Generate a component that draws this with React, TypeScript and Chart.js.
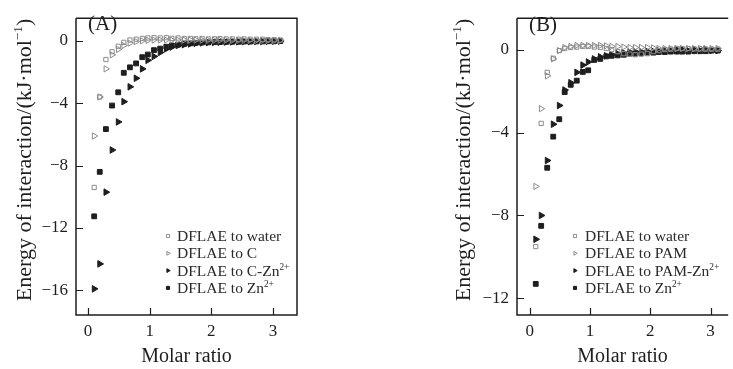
import React, { useEffect, useRef } from 'react';
import { Chart, registerables } from 'chart.js';
import { drawPoint } from 'chart.js/helpers';
Chart.register(...registerables);

// ---------- data ----------
const molarRatio = [0.10, 0.19, 0.29, 0.39, 0.49, 0.58, 0.68, 0.78, 0.88, 0.97, 1.07, 1.17, 1.27, 1.36, 1.46, 1.56, 1.66, 1.75, 1.85, 1.95, 2.05, 2.14, 2.24, 2.34, 2.44, 2.53, 2.63, 2.73, 2.83, 2.92, 3.02, 3.12];

// Panel A
const waterA = [-9.4, -3.6, -1.2, -0.7, -0.35, -0.1, 0.05, 0.1, 0.15, 0.18, 0.2, 0.18, 0.2, 0.16, 0.18, 0.15, 0.15, 0.13, 0.15, 0.12, 0.13, 0.14, 0.12, 0.12, 0.1, 0.12, 0.1, 0.1, 0.1, 0.08, 0.07, 0.05];
const cA = [-6.1, -3.6, -1.8, -0.9, -0.55, -0.3, -0.15, -0.05, 0, 0.03, 0.05, 0.05, 0.05, 0.05, 0.05, 0.05, 0.05, 0.05, 0.05, 0.04, 0.04, 0.04, 0.04, 0.03, 0.03, 0.03, 0.03, 0.02, 0.02, 0.02, 0.02, 0.02];
const cZnA = [-15.9, -14.3, -9.7, -7.0, -5.2, -3.9, -2.95, -2.4, -1.8, -1.25, -1.0, -0.75, -0.52, -0.4, -0.3, -0.25, -0.2, -0.16, -0.13, -0.11, -0.1, -0.09, -0.08, -0.07, -0.06, -0.05, -0.05, -0.04, -0.04, -0.03, -0.03, -0.02];
const znA = [-11.25, -8.4, -5.66, -4.15, -3.3, -2.05, -1.7, -1.45, -1.05, -0.88, -0.6, -0.5, -0.38, -0.3, -0.25, -0.2, -0.16, -0.13, -0.11, -0.1, -0.09, -0.08, -0.07, -0.06, -0.06, -0.05, -0.05, -0.04, -0.04, -0.03, -0.03, -0.02];

// Panel B
const waterB = [-9.5, -3.56, -1.1, -0.42, -0.05, 0.05, 0.1, 0.12, 0.15, 0.15, 0.12, 0.1, 0.05, 0.0, -0.1, -0.2, -0.22, -0.25, -0.22, -0.2, -0.1, -0.05, 0, 0.02, 0.05, 0.05, 0.05, 0.03, 0.03, 0.02, 0.02, 0.02];
const pamB = [-6.6, -2.85, -1.27, -0.45, -0.05, 0.1, 0.15, 0.2, 0.2, 0.2, 0.2, 0.2, 0.18, 0.15, 0.15, 0.12, 0.1, 0.1, 0.1, 0.1, 0.08, 0.05, 0.05, 0.05, 0.05, 0.05, 0.05, 0.05, 0.05, 0.05, 0.05, 0.05];
const pamZnB = [-9.15, -8.0, -5.35, -3.6, -2.7, -1.95, -1.6, -1.1, -0.75, -0.6, -0.45, -0.35, -0.3, -0.25, -0.2, -0.15, -0.12, -0.1, -0.1, -0.08, -0.08, -0.05, -0.05, -0.05, 0, 0, -0.05, 0, -0.05, 0, -0.05, -0.05];
const znB = [-11.3, -8.5, -5.7, -4.2, -3.36, -2.05, -1.7, -1.5, -1.08, -1.0, -0.5, -0.45, -0.33, -0.3, -0.28, -0.25, -0.2, -0.2, -0.18, -0.15, -0.15, -0.12, -0.12, -0.1, -0.1, -0.1, -0.1, -0.08, -0.08, -0.08, -0.05, -0.05];

const xTicks = [0, 1, 2, 3];
const yTicksA = [0, -4, -8, -12, -16];
const yTicksB = [0, -4, -8, -12];
const labelsA = ['DFLAE to water', 'DFLAE to C', 'DFLAE to C-Zn^{2+}', 'DFLAE to Zn^{2+}'];
const labelsB = ['DFLAE to water', 'DFLAE to PAM', 'DFLAE to PAM-Zn^{2+}', 'DFLAE to Zn^{2+}'];
const yTitleText = 'Energy of interaction/(kJ·mol^{−1})';
const xTitleText = 'Molar ratio';

// ---------- styling ----------
const SERIF = "'Liberation Serif', 'Times New Roman', Times, serif";
const INK = '#1e1e1e';
const GREY = '#8c8c8c';

const markerStyles = [
  { pointStyle: 'rect', rotation: 0, radius: 3, fill: 'rgba(0,0,0,0)', stroke: GREY },
  { pointStyle: 'triangle', rotation: 90, radius: 3.6, fill: 'rgba(0,0,0,0)', stroke: GREY },
  { pointStyle: 'triangle', rotation: 90, radius: 3.8, fill: INK, stroke: INK },
  { pointStyle: 'rect', rotation: 0, radius: 3.4, fill: INK, stroke: INK },
];

function parseRich(s: string) {
  const parts: { t: string; sup: boolean }[] = [];
  const re = /\^\{([^}]*)\}/g;
  let last = 0;
  let m: RegExpExecArray | null;
  while ((m = re.exec(s))) {
    if (m.index > last) parts.push({ t: s.slice(last, m.index), sup: false });
    parts.push({ t: m[1], sup: true });
    last = re.lastIndex;
  }
  if (last < s.length) parts.push({ t: s.slice(last), sup: false });
  return parts;
}

function drawRich(ctx: CanvasRenderingContext2D, s: string, x: number, yMid: number, size: number, color: string, align: 'left' | 'center') {
  const parts = parseRich(s);
  const supSize = size * 0.6;
  const widths = parts.map((p) => {
    ctx.font = `${p.sup ? supSize : size}px ${SERIF}`;
    return ctx.measureText(p.t).width;
  });
  const total = widths.reduce((a, b) => a + b, 0);
  let cx = align === 'center' ? x - total / 2 : x;
  const base = yMid + size * 0.33;
  ctx.fillStyle = color;
  ctx.textAlign = 'left';
  ctx.textBaseline = 'alphabetic';
  parts.forEach((p, i) => {
    ctx.font = `${p.sup ? supSize : size}px ${SERIF}`;
    ctx.fillText(p.t, cx, p.sup ? base - size * 0.4 : base);
    cx += widths[i];
  });
}

const decoPlugin = {
  id: 'deco',
  afterDraw(chart: any, _args: any, opts: any) {
    const { ctx, chartArea: a, scales } = chart;
    ctx.save();
    // frame
    ctx.strokeStyle = INK;
    ctx.lineWidth = 1.5;
    ctx.beginPath();
    ctx.moveTo(a.left, a.top);
    ctx.lineTo(a.left, a.bottom);
    ctx.lineTo(a.right, a.bottom);
    if (opts.fullBox) {
      ctx.lineTo(a.right, a.top);
      ctx.lineTo(a.left, a.top);
    } else {
      ctx.moveTo(a.left, a.top);
      ctx.lineTo(a.right, a.top);
    }
    ctx.stroke();
    // inward ticks
    ctx.lineWidth = 1.2;
    ctx.beginPath();
    scales.x.ticks.forEach((t: any) => {
      const px = Math.round(scales.x.getPixelForValue(t.value)) + 0.5;
      ctx.moveTo(px, a.bottom);
      ctx.lineTo(px, a.bottom - opts.tickLen);
    });
    scales.y.ticks.forEach((t: any) => {
      const py = Math.round(scales.y.getPixelForValue(t.value)) + 0.5;
      ctx.moveTo(a.left, py);
      ctx.lineTo(a.left + opts.tickLen, py);
    });
    ctx.stroke();
    // panel label
    ctx.fillStyle = INK;
    ctx.font = `21px ${SERIF}`;
    ctx.textAlign = 'left';
    ctx.textBaseline = 'middle';
    ctx.fillText(opts.panel, opts.panelX, opts.panelY);
    // y title (rotated)
    ctx.save();
    ctx.translate(opts.yTitleX, opts.yTitleY);
    ctx.rotate(-Math.PI / 2);
    drawRich(ctx, yTitleText, 0, 0, 22, INK, 'center');
    ctx.restore();
    // legend
    chart.data.datasets.forEach((ds: any, i: number) => {
      const st = markerStyles[i];
      const y = opts.legendY + i * opts.legendStep;
      ctx.fillStyle = st.fill;
      ctx.strokeStyle = st.stroke;
      ctx.lineWidth = 1;
      drawPoint(ctx, { pointStyle: st.pointStyle, rotation: st.rotation, radius: 2.2, borderWidth: 1 } as any, opts.legendMarkerX, y);
      drawRich(ctx, ds.label, opts.legendTextX, y, 15.5, '#2a2a2a', 'left');
    });
    ctx.restore();
  },
};

function makeConfig(p: any) {
  const datasets = p.series.map((ys: number[], i: number) => {
    const st = markerStyles[i];
    return {
      label: p.labels[i],
      data: molarRatio.map((x, j) => ({ x, y: ys[j] })),
      showLine: false,
      pointStyle: st.pointStyle,
      pointRotation: st.rotation,
      pointRadius: st.radius,
      pointHoverRadius: st.radius,
      pointBackgroundColor: st.fill,
      pointBorderColor: st.stroke,
      pointBorderWidth: 1,
    };
  });
  const tickFont = { family: SERIF, size: 17 };
  return {
    type: 'scatter',
    data: { datasets },
    plugins: [decoPlugin],
    options: {
      animation: false,
      responsive: false,
      events: [],
      layout: { padding: { left: 0, top: p.padTop, right: p.padRight, bottom: 0 } },
      plugins: {
        legend: { display: false },
        tooltip: { enabled: false },
        deco: p.deco,
      },
      scales: {
        x: {
          type: 'linear',
          min: p.xMin,
          max: p.xMax,
          afterFit: (s: any) => { s.height = 54; },
          afterBuildTicks: (s: any) => { s.ticks = xTicks.map((v) => ({ value: v })); },
          grid: { display: false, drawTicks: false, drawOnChartArea: false },
          border: { display: false },
          ticks: { font: tickFont, color: INK, padding: 6, callback: (v: any) => String(v).replace('-', '−') },
          title: { display: true, text: xTitleText, font: { family: SERIF, size: 20 }, color: INK, padding: { top: 0, bottom: 0 } },
        },
        y: {
          type: 'linear',
          min: p.yMin,
          max: p.yMax,
          afterFit: (s: any) => { s.width = p.yWidth; },
          afterBuildTicks: (s: any) => { s.ticks = p.yTicks.map((v: number) => ({ value: v })); },
          grid: { display: false, drawTicks: false, drawOnChartArea: false },
          border: { display: false },
          ticks: { font: tickFont, color: INK, padding: 8, callback: (v: any) => String(v).replace('-', '−') },
        },
      },
    },
  };
}

const panelA = {
  series: [waterA, cA, cZnA, znA],
  labels: labelsA,
  padTop: 13, padRight: 13, yWidth: 76,
  xMin: -0.195, xMax: 3.39, yMin: -17.575, yMax: 1.449,
  yTicks: yTicksA,
  deco: {
    fullBox: true, tickLen: 7,
    panel: '(A)', panelX: 88, panelY: 24,
    yTitleX: 24, yTitleY: 160,
    legendMarkerX: 168, legendTextX: 177, legendY: 236, legendStep: 17.3,
  },
};

const panelB = {
  series: [waterB, pamB, pamZnB, znB],
  labels: labelsB,
  padTop: 12, padRight: 0, yWidth: 97,
  xMin: -0.211, xMax: 3.292, yMin: -12.8, yMax: 1.512,
  yTicks: yTicksB,
  deco: {
    fullBox: false, tickLen: 7,
    panel: '(B)', panelX: 109, panelY: 25,
    yTitleX: 43, yTitleY: 160,
    legendMarkerX: 155, legendTextX: 165, legendY: 236, legendStep: 17.3,
  },
};

function Panel({ p, left, width }: { p: any; left: number; width: number }) {
  const ref = useRef<HTMLCanvasElement | null>(null);
  useEffect(() => {
    if (!ref.current) return;
    const chart = new Chart(ref.current, makeConfig(p) as any);
    return () => chart.destroy();
  }, [p]);
  return (
    <canvas
      ref={ref}
      width={width}
      height={369}
      style={{ position: 'absolute', left, top: 0, width, height: 369, display: 'block' }}
    />
  );
}

export default function App() {
  return (
    <div style={{ position: 'absolute', left: 0, top: 0, width: 733, height: 369, background: '#fff', overflow: 'hidden' }}>
      <Panel p={panelA} left={0} width={310} />
      <Panel p={panelB} left={420} width={313} />
    </div>
  );
}
